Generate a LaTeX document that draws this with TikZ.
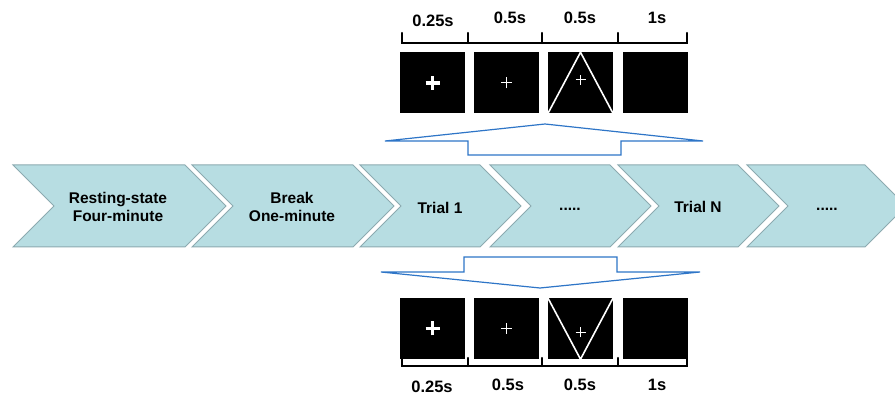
\documentclass[tikz,border=0pt]{standalone}
\usepackage{fontspec}
\setmainfont{Liberation Sans}
\definecolor{chevfill}{RGB}{183,221,226}
\definecolor{chevline}{RGB}{140,170,176}
\definecolor{callblue}{RGB}{46,117,199}
\newcommand\mychev[2]{%
  \draw[chev] (#1,165) -- (#2,165) -- (#2+41,206) -- (#2,247) -- (#1,247) -- (#1+41,206) -- cycle;}
\begin{document}
\begin{tikzpicture}[x=1pt,y=-1pt,
  chev/.style={fill=chevfill,draw=chevline,line width=1pt},
  lbl/.style={font=\fontsize{15.5}{18}\selectfont\bfseries,align=center,inner sep=0pt},
  tlbl/.style={font=\fontsize{16.5}{18}\selectfont\bfseries,inner sep=0pt},
  scr/.style={fill=black,draw=none,minimum width=65pt,minimum height=61pt,inner sep=0pt},
  brk/.style={line width=2.2pt,black,line cap=round},
  callout/.style={draw=callblue,line width=1.2pt,fill=white,line join=miter},
  bigplus/.style={white,line width=3.2pt},
  smallplus/.style={white,line width=1pt},
  tri/.style={white,line width=1.6pt}]
\useasboundingbox (0,0) rectangle (895,398);
% chevrons
\mychev{13}{185}
\mychev{192}{353}
\mychev{360}{480}
\mychev{490}{610}
\mychev{618}{738}
\mychev{747}{865}
\node[lbl] (c1) at (118,207) {Resting-state\\Four-minute};
\node[lbl] (c2) at (292,207) {Break\\One-minute};
\node[lbl] (c3) at (440,208) {Trial 1};
\node[lbl] (c4) at (570,209) {.....};
\node[lbl] (c5) at (698,207) {Trial N};
\node[lbl] (c6) at (827,209) {.....};
% callouts
\draw[callout] (385,141) -- (545,124) -- (703,141) -- (621,141) -- (621,155) -- (468,155) -- (468,141) -- cycle;
\draw[callout] (381,272) -- (464,272) -- (464,257) -- (617,257) -- (617,272) -- (700,272) -- (540,288) -- cycle;
% top screens
\node[scr] (t1) at (432.5,83) {};
\node[scr] (t2) at (506.5,83) {};
\node[scr] (t3) at (580.5,83) {};
\node[scr] (t4) at (655,83) {};
\draw[bigplus] ([xshift=-7pt]t1.center) -- ([xshift=7pt]t1.center) ([yshift=-7pt]t1.center) -- ([yshift=7pt]t1.center);
\draw[smallplus] ([xshift=-5.5pt]t2.center) -- ([xshift=5.5pt]t2.center) ([yshift=-5.5pt]t2.center) -- ([yshift=5.5pt]t2.center);
\draw[smallplus] ([xshift=-5pt,yshift=3pt]t3.center) -- ([xshift=5pt,yshift=3pt]t3.center) ([yshift=-2pt]t3.center) -- ([yshift=8pt]t3.center);
\draw[tri] (t3.south west) -- (t3.north) -- (t3.south east);
% top bracket
\draw[brk] (402,33) -- (402,43) -- (687,43) -- (687,33);
\foreach \x in {468,542,618} \draw[brk] (\x,33) -- (\x,43);
\node[tlbl] (tl1) at (433,21) {0.25s};
\node[tlbl] (tl2) at (510,18) {0.5s};
\node[tlbl] (tl3) at (580,18) {0.5s};
\node[tlbl] (tl4) at (657,18) {1s};
% bottom screens
\node[scr] (b1) at (432.5,328.5) {};
\node[scr] (b2) at (506.5,328.5) {};
\node[scr] (b3) at (580.5,328.5) {};
\node[scr] (b4) at (655,328.5) {};
\draw[bigplus] ([xshift=-7pt]b1.center) -- ([xshift=7pt]b1.center) ([yshift=-7pt]b1.center) -- ([yshift=7pt]b1.center);
\draw[smallplus] ([xshift=-5.5pt]b2.center) -- ([xshift=5.5pt]b2.center) ([yshift=-5.5pt]b2.center) -- ([yshift=5.5pt]b2.center);
\draw[smallplus] ([xshift=-5pt,yshift=-4pt]b3.center) -- ([xshift=5pt,yshift=-4pt]b3.center) ([yshift=-9pt]b3.center) -- ([yshift=1pt]b3.center);
\draw[tri] (b3.north west) -- (b3.south) -- (b3.north east);
% bottom bracket
\draw[brk] (402,358) -- (402,366) -- (687,366) -- (687,358);
\foreach \x in {468,542,618} \draw[brk] (\x,358) -- (\x,366);
\node[tlbl] (bl1) at (432,387) {0.25s};
\node[tlbl] (bl2) at (508,385) {0.5s};
\node[tlbl] (bl3) at (580,385) {0.5s};
\node[tlbl] (bl4) at (657,385) {1s};
\end{tikzpicture}
\end{document}
